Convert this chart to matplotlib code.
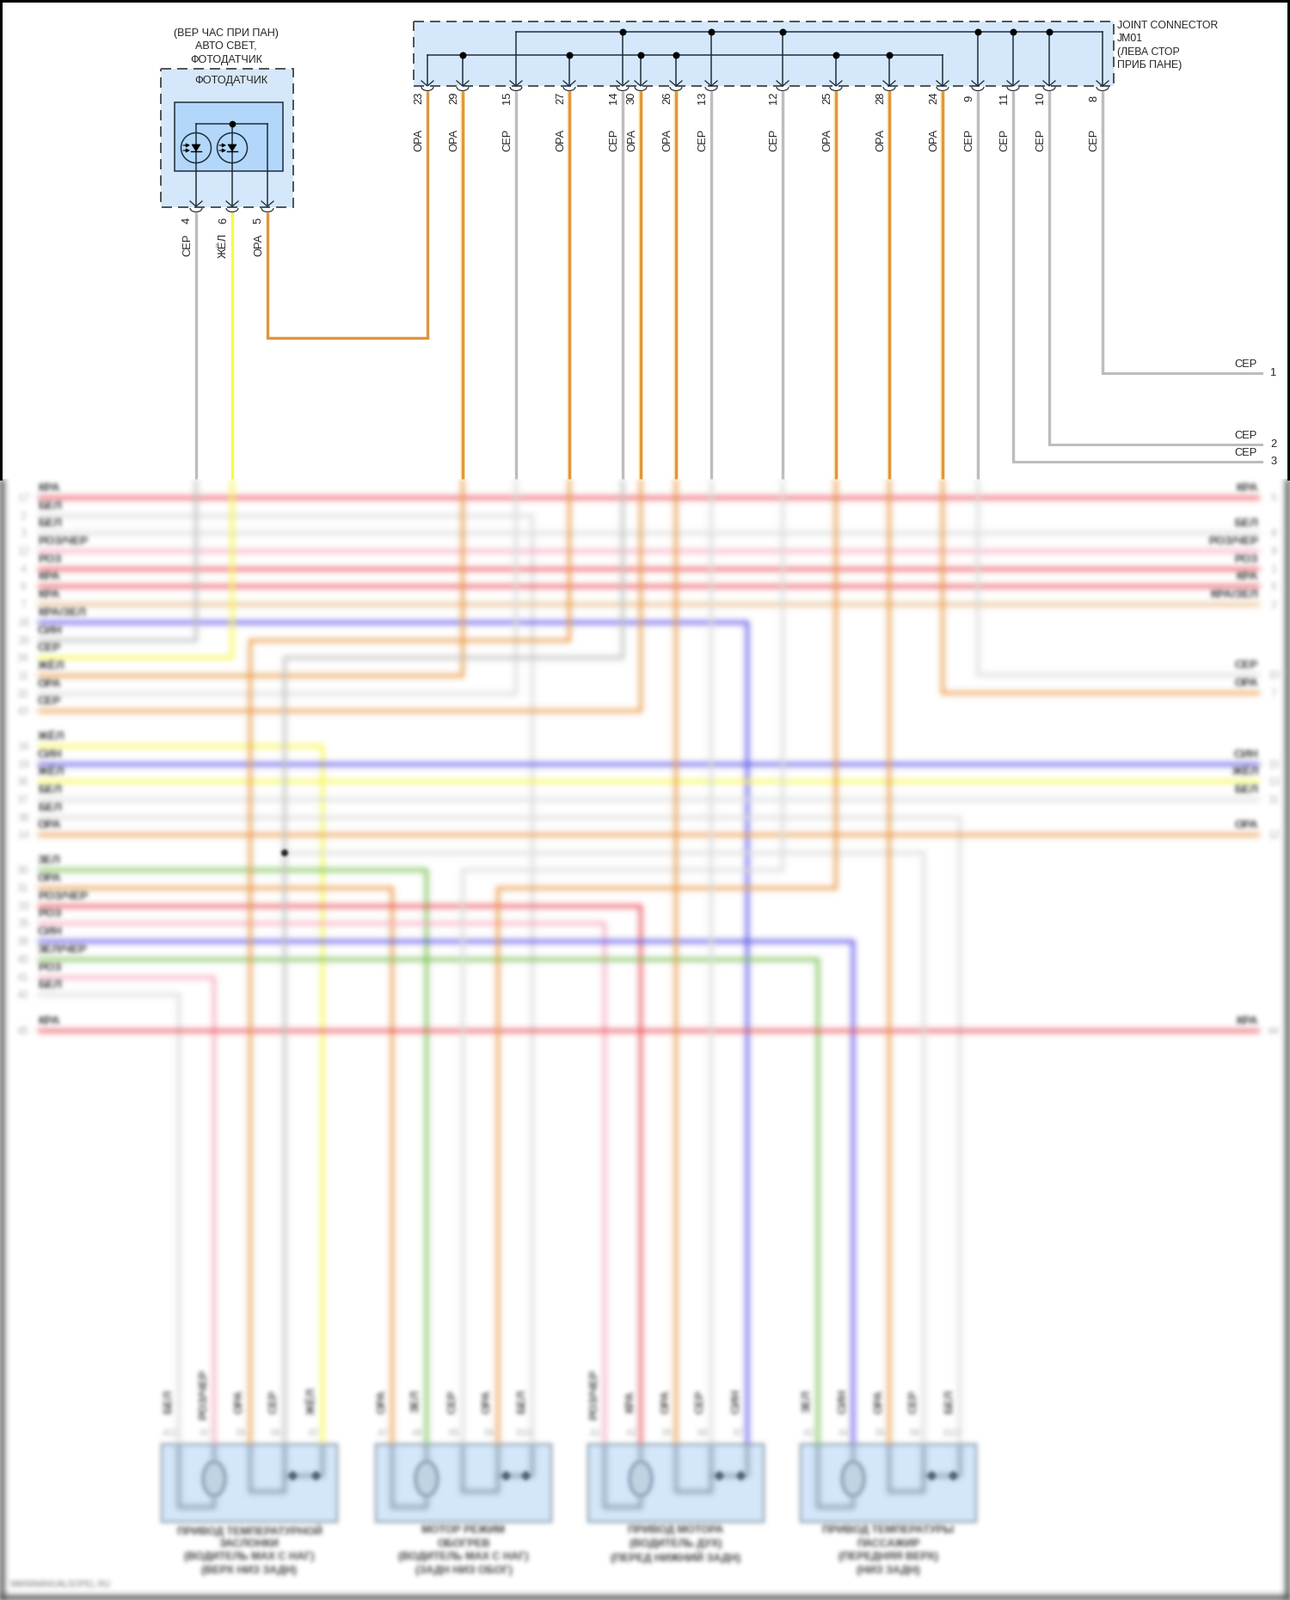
import numpy as np
import matplotlib
matplotlib.use("Agg")
import matplotlib.pyplot as plt
from matplotlib.patches import Rectangle, Circle, Ellipse, Polygon, Arc

plt.rcParams['font.family'] = ['Liberation Sans', 'DejaVu Sans']

# upper part: connector pins
top_pins = ['23', '29', '15', '27', '14', '30', '26', '13', '12', '25', '28', '24', '9', '11', '10', '8']
top_names = ['ОРА', 'ОРА', 'СЕР', 'ОРА', 'СЕР', 'ОРА', 'ОРА', 'СЕР', 'СЕР', 'ОРА', 'ОРА', 'ОРА', 'СЕР', 'СЕР', 'СЕР', 'СЕР']
top_x = [497, 538, 600, 662, 724, 745, 786, 827, 910, 972, 1034, 1096, 1137, 1178, 1220, 1282]
top_bus = [0, 0, 1, 0, 1, 0, 0, 1, 1, 0, 0, 0, 1, 1, 1, 1]
top_bottom = [393, 557, 557, 557, 557, 557, 557, 557, 557, 557, 557, 557, 557, 537, 517, 434]

sensor_pins = ['4', '6', '5']
sensor_names = ['СЕР', 'ЖЁЛ', 'ОРА']
sensor_x = [228, 270, 311]

out_num = ['1', '2', '3']
out_y = [434, 517, 537]
out_x = [1282, 1220, 1178]

# lower part: rows of the wiring table
row_y = [579, 600, 620, 641, 662, 682, 703, 724, 745, 765, 786, 807, 827,
         868, 889, 909, 930, 951, 971,
         1012, 1033, 1054, 1074, 1095, 1116, 1137, 1157, 1199]
row_end = [1465, 619, 1465, 1465, 1465, 1465, 1465, 869, 228, 270, 538, 600, 745,
           375, 1465, 1465, 1465, 1116, 1465,
           496, 456, 745, 703, 992, 951, 249, 208, 1465]
row_turn = [0, 1680, 0, 0, 0, 0, 0, 1680, 557, 557, 557, 557, 557,
            1680, 0, 0, 0, 1680, 0,
            1680, 1680, 1680, 1680, 1680, 1680, 1680, 1680, 0]
row_col = ['red', 'pale', 'pale', 'pink', 'red', 'red', 'tan', 'blue', 'gray', 'yellow', 'orange', 'pale', 'orange',
           'yellow', 'blue', 'yellow', 'pale', 'pale', 'orange',
           'green', 'orange', 'red', 'pink', 'blue', 'green', 'pink', 'pale', 'red']
row_left = ['КРА', 'БЕЛ', 'БЕЛ', 'РОЗ/ЧЕР', 'РОЗ', 'КРА', 'КРА', 'КРА/ЗЕЛ', 'СИН', 'СЕР', 'ЖЁЛ', 'ОРА', 'СЕР',
            'ЖЁЛ', 'СИН', 'ЖЁЛ', 'БЕЛ', 'БЕЛ', 'ОРА',
            'ЗЕЛ', 'ОРА', 'РОЗ/ЧЕР', 'РОЗ', 'СИН', 'ЗЕЛ/ЧЕР', 'РОЗ', 'БЕЛ', 'КРА']
row_num = ['17', '2', '3', '12', '4', '6', '7', '18', '20', '34', '11', '32', '43',
           '16', '19', '36', '37', '38', '14',
           '30', '31', '33', '35', '39', '40', '41', '42', '45']

right_y = [579, 620, 641, 662, 682, 703, 785, 806, 889, 909, 930, 971, 1199]
right_names = ['КРА', 'БЕЛ', 'РОЗ/ЧЕР', 'РОЗ', 'КРА', 'КРА/ЗЕЛ', 'СЕР', 'ОРА', 'СИН', 'ЖЁЛ', 'БЕЛ', 'ОРА', 'КРА']
right_num = ['5', '8', '9', '1', '6', '2', '10', '7', '15', '13', '11', '12', '44']

# wires that change direction: colour, xs, ys
extra_routes = [
    ('orange', [291, 291, 662, 662], [1680, 745, 745, 557]),
    ('gray', [331, 331, 724, 724], [1680, 765, 765, 557]),
    ('pale', [1137, 1137, 1465], [557, 785, 785]),
    ('orange', [1096, 1096, 1465], [557, 806, 806]),
    ('pale', [331, 1074, 1074], [992, 992, 1680]),
    ('pale', [910, 910, 538, 538], [557, 1012, 1012, 1680]),
    ('orange', [972, 972, 579, 579], [557, 1033, 1033, 1680]),
    ('orange', [786, 786], [557, 1680]),
    ('pale', [827, 827], [557, 1680]),
    ('orange', [1034, 1034], [557, 1680]),
]

# motors at the bottom
box_left = [188, 437, 684, 931]
pin_x = [[208, 249, 291, 331, 375], [456, 496, 538, 579, 619],
         [703, 745, 786, 827, 869], [951, 992, 1034, 1074, 1116]]
pin_name = [['БЕЛ', 'РОЗ/ЧЕР', 'ОРА', 'СЕР', 'ЖЁЛ'], ['ОРА', 'ЗЕЛ', 'СЕР', 'ОРА', 'БЕЛ'],
            ['РОЗ/ЧЕР', 'КРА', 'ОРА', 'СЕР', 'СИН'], ['ЗЕЛ', 'СИН', 'ОРА', 'СЕР', 'БЕЛ']]
pin_num = [['A11', 'A7', 'B5', 'B6', 'B7'], ['A7', 'A8', 'B5', 'B6', 'B10'],
           ['A1', 'A2', 'B5', 'B6', 'B7'], ['A3', 'A4', 'B5', 'B6', 'B10']]
box_title = [['ПРИВОД ТЕМПЕРАТУРНОЙ', 'ЗАСЛОНКИ', '(ВОДИТЕЛЬ МАХ С НАГ)', '(ВЕРХ НИЗ ЗАДН)'],
             ['МОТОР РЕЖИМ', 'ОБОГРЕВ', '(ВОДИТЕЛЬ МАХ С НАГ)', '(ЗАДН НИЗ ОБОГ)'],
             ['ПРИВОД МОТОРА', '(ВОДИТЕЛЬ ДУХ)', '(ПЕРЕД НИЖНИЙ ЗАДН)'],
             ['ПРИВОД ТЕМПЕРАТУРЫ', 'ПАССАЖИР', '(ПЕРЕДНЯЯ ВЕРХ)', '(НИЗ ЗАДН)']]

wire = {'orange': '#ea9a48', 'gray': '#c0c0c0', 'yellow': '#f8f84a', 'red': '#ec5058',
        'pink': '#f8a8bc', 'blue': '#5a50e8', 'green': '#78c050', 'tan': '#e8b880', 'pale': '#dcdcdc'}
sharp_wire = {'orange': '#e0963f', 'gray': '#bdbdbd', 'yellow': '#f8f84a'}
dark = '#1c2c3c'
box_fill = '#d5e8fb'


def gauss(a, sigma):
    r = int(3 * sigma)
    k = np.exp(-0.5 * (np.arange(-r, r + 1) / sigma) ** 2)
    k = k / k.sum()
    res = np.zeros_like(a)
    for i, w in zip(range(-r, r + 1), k):
        res += w * np.roll(a, i, axis=0)
    res2 = np.zeros_like(a)
    for i, w in zip(range(-r, r + 1), k):
        res2 += w * np.roll(res, i, axis=1)
    return res2


def blur(sigma):
    def f(im, dpi):
        pad = int(3 * sigma) + 1
        ny, nx, d = im.shape
        p = np.zeros((ny + 2 * pad, nx + 2 * pad, d))
        p[pad:-pad, pad:-pad, :] = im
        a = gauss(p[..., 3], sigma)
        out = np.zeros_like(p)
        for c in range(3):
            out[..., c] = gauss(p[..., c] * p[..., 3], sigma) / np.maximum(a, 1e-4)
        out[..., 3] = a
        return np.clip(out, 0, 1), -pad, -pad
    return f


px = 0.72
fig = plt.figure(figsize=(15, 18.61), dpi=100)
ax = fig.add_axes([0, 0, 1, 1])
ax.set_xlim(0, 1500)
ax.set_ylim(1861, 0)
ax.axis('off')
soft = blur(3.6)
soft_text = blur(2.4)


def bl(xs, ys, c, w=3.8, z=2):
    l, = ax.plot(xs, ys, color=c, lw=w * px, solid_capstyle='butt', solid_joinstyle='miter', zorder=z)
    l.set_agg_filter(soft)
    return l


def bt(x, y, s, z=5, size=9.5, **kw):
    t = ax.text(x, y, s, fontsize=size, zorder=z, **kw)
    t.set_agg_filter(soft_text)
    return t


# boxes of the lower part go first, wires over them
for left, pins, names, nums, title in zip(box_left, pin_x, pin_name, pin_num, box_title):
    r = Rectangle((left, 1680), 204, 90, fc=box_fill, ec='#a8b8c4', lw=3.5 * px, zorder=1)
    r.set_agg_filter(blur(2.5))
    ax.add_patch(r)
    bl([pins[0], pins[0], pins[1], pins[1]], [1680, 1753, 1753, 1740], '#7c90a4', 3.6, 3)
    bl([pins[1], pins[1]], [1680, 1700], '#7c90a4', 3.6, 3)
    e = Ellipse((pins[1], 1720), 26, 40, fc='#c0d4e4', ec='#7c90a4', lw=3 * px, zorder=3)
    e.set_agg_filter(blur(2.5))
    ax.add_patch(e)
    bl([pins[2], pins[2], pins[3], pins[3]], [1680, 1735, 1735, 1680], '#7c90a4', 3.6, 3)
    bl([pins[3], pins[4]], [1716, 1716], '#6c8094', 3, 3)
    bl([pins[4], pins[4]], [1680, 1716], '#7c90a4', 3.6, 3)
    # diode marks on the link between the two last pins
    for mx in (pins[3] + 9, pins[4] - 8):
        m, = ax.plot([mx], [1716], 'D', color='#4c6074', ms=7 * px, zorder=4)
        m.set_agg_filter(blur(2))
    for x, name, num in zip(pins, names, nums):
        long_name = len(name) > 4
        bt(x - 12, 1622 if long_name else 1630, name, rotation=90, ha='center', va='center', color='#404040', fontweight='bold')
        bt(x - 10, 1667, num, ha='center', va='center', color='#b8b8b8', size=8)
    for i, line in enumerate(title):
        bt(left + 102, 1780 + i * 15.7, line, ha='center', va='center', color='#383838', fontweight='bold', size=9)

# table rows
for y, end, turn, c, name, num in zip(row_y, row_end, row_turn, row_col, row_left, row_num):
    if turn:
        bl([44, end, end], [y, y, turn], wire[c])
    else:
        bl([44, end], [y, y], wire[c])
    bt(44, y - 11, name, ha='left', va='center', color='#303030', fontweight='bold')
    bt(27, y + 1, num, ha='center', va='center', color='#b4b4b4', size=9)
for route in extra_routes:
    bl(route[1], route[2], wire[route[0]])
for y, name, num in zip(right_y, right_names, right_num):
    bt(1463, y - 11, name, ha='right', va='center', color='#303030', fontweight='bold')
    bt(1481, y + 1, num, ha='center', va='center', color='#b4b4b4', size=9)
jd = Circle((331, 992), 4, fc='#202020', ec='none', zorder=4)
jd.set_agg_filter(blur(1.5))
ax.add_patch(jd)
bt(70, 1843, 'WWWMANUALSOPEL.RU', ha='center', va='center', color='#707070', size=7)

# frame of the lower part
for xs, ys in [([0, 0], [557, 1861]), ([1500, 1500], [557, 1861]), ([0, 1500], [1861, 1861])]:
    bl(xs, ys, '#303030', 10, 4)

# the upper part is sharp, so it hides the blur that runs over it
ax.add_patch(Rectangle((0, 0), 1500, 557, fc='white', ec='none', zorder=8))
ax.plot([1, 1], [0, 557], color='black', lw=3 * px, zorder=9)
ax.plot([1498, 1498], [0, 557], color='black', lw=3 * px, zorder=9)
ax.plot([0, 1500], [1, 1], color='black', lw=3 * px, zorder=9)

# connector boxes
ax.add_patch(Rectangle((481, 25), 814, 75, fc=box_fill, ec='none', zorder=9))
ax.add_patch(Rectangle((187, 80), 154, 161, fc=box_fill, ec='none', zorder=9))
for b in [(481, 25, 814, 75), (187, 80, 154, 161)]:
    ax.add_patch(Rectangle(b[:2], b[2], b[3], fc='none', ec='#555555', lw=2 * px, ls=(0, (6, 3.5)), zorder=10))
ax.add_patch(Rectangle((203, 119), 126, 80, fc='#b3d7fa', ec=dark, lw=1.5 * px, zorder=10))


def pin(x, y, name, num, stop, col):
    # chevron and socket arc at a connector pin
    ax.plot([x - 7, x, x + 7], [y - 6, y, y - 6], color=dark, lw=1.3 * px, zorder=12)
    ax.add_patch(Arc((x, y + 1), 14, 9, theta1=0, theta2=180, color=dark, lw=1.2 * px, zorder=12))
    ax.plot([x, x], [y + 6, stop], color=sharp_wire[col], lw=3.4 * px, solid_capstyle='butt', zorder=10.5)
    ax.text(x - 10, y + 14, num, rotation=90, fontsize=9.3, ha='center', va='center', color='#222222', zorder=12)
    ax.text(x - 10, y + 63, name, rotation=90, fontsize=9.3, ha='center', va='center', color='#222222', zorder=12)


for x, num, name, bus, stop in zip(top_x, top_pins, top_names, top_bus, top_bottom):
    col = 'orange' if name == 'ОРА' else 'gray'
    if col == 'orange' and stop == 557:
        ax.plot([x, x], [106, stop], color='#fff0c8', lw=6 * px, zorder=10.2, solid_capstyle='butt')
    pin(x, 100, name, num, stop, col)
    bus_y = 37 if bus else 64
    ax.plot([x, x], [bus_y, 99], color=dark, lw=1.5 * px, zorder=11)
    ends = top_x[0] if not bus else top_x[2]
    last = top_x[11] if not bus else top_x[15]
    if x != ends and x != last:
        ax.plot([x], [bus_y], 'o', color='black', ms=6 * px * 1.1, zorder=12)
ax.plot([top_x[0], top_x[11]], [64, 64], color=dark, lw=1.5 * px, zorder=11)
ax.plot([top_x[2], top_x[15]], [37, 37], color=dark, lw=1.5 * px, zorder=11)

# right side outgoing wires
for x, y, num in zip(out_x, out_y, out_num):
    ax.plot([x, 1467], [y, y], color=sharp_wire['gray'], lw=3 * px, solid_capstyle='projecting', zorder=10.5)
    ax.text(1462, y - 10, 'СЕР', fontsize=9.3, ha='right', va='center', color='#222222', zorder=12)
    ax.text(1481, y, num, fontsize=9.3, ha='center', va='center', color='#222222', zorder=12)

# photo sensor
for x, num, name, col in zip(sensor_x, sensor_pins, sensor_names, ['gray', 'yellow', 'orange']):
    stop = 557 if col != 'orange' else 393
    ax.plot([x, x], [144, 240], color=dark, lw=1.5 * px, zorder=11)
    ax.plot([x, x], [247, stop], color=sharp_wire[col], lw=3.4 * px, solid_capstyle='butt', zorder=10.5)
    ax.plot([x - 7, x, x + 7], [234, 240, 234], color=dark, lw=1.3 * px, zorder=12)
    ax.add_patch(Arc((x, 242), 14, 9, theta1=0, theta2=180, color=dark, lw=1.2 * px, zorder=12))
    ax.text(x - 10, 256, num, rotation=90, fontsize=9.3, ha='center', va='center', color='#222222', zorder=12)
    ax.text(x - 10, 285, name, rotation=90, fontsize=9.3, ha='center', va='center', color='#222222', zorder=12)
ax.plot([sensor_x[2], top_x[0]], [393, 393], color=sharp_wire['orange'], lw=3.4 * px, solid_capstyle='projecting', zorder=10.5)
ax.plot([sensor_x[0], sensor_x[2]], [144, 144], color=dark, lw=1.5 * px, zorder=11)
ax.plot([sensor_x[1]], [144], 'o', color='black', ms=4.5, zorder=12)
for x in sensor_x[:2]:
    ax.add_patch(Circle((x, 172), 17.5, fc='none', ec=dark, lw=1.5 * px, zorder=11))
    ax.add_patch(Polygon([(x - 5, 168), (x + 5, 168), (x, 176)], fc='black', ec='black', lw=0.5, zorder=12))
    ax.plot([x - 6, x + 6], [176, 176], color='black', lw=1.4 * px, zorder=12)
    for yy in (169, 175):
        ax.annotate('', xy=(x - 7, yy), xytext=(x - 15, yy), zorder=12,
                    arrowprops=dict(arrowstyle='-|>,head_width=0.13,head_length=0.25', color='black', lw=0.8, shrinkA=0, shrinkB=0))

txt = dict(color='#222222', zorder=12, va='center')
for y, s in zip([39, 54, 70], ['(ВЕР ЧАС ПРИ ПАН)', 'АВТО СВЕТ,', 'ФОТОДАТЧИК']):
    ax.text(263, y, s, ha='center', fontsize=9.0, **txt)
ax.text(269, 94, 'ФОТОДАТЧИК', ha='center', fontsize=9.2, **txt)
for y, s in zip([30, 45, 61, 76], ['JOINT CONNECTOR', 'JM01', '(ЛЕВА СТОР', 'ПРИБ ПАНЕ)']):
    ax.text(1299, y, s, ha='left', fontsize=8.8, **txt)

fig.savefig('out.png', dpi=100)
